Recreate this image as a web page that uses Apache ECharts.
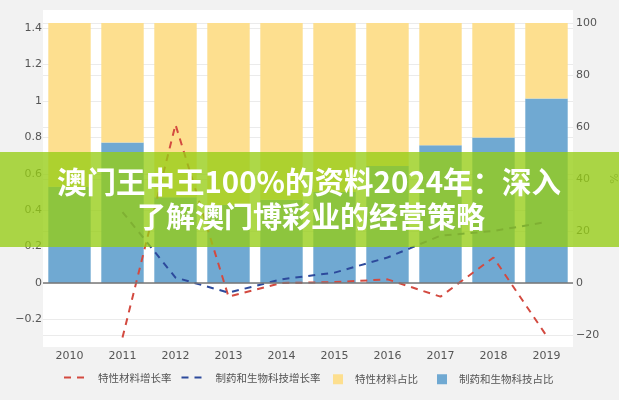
<!DOCTYPE html>
<html>
<head>
<meta charset="utf-8">
<script src="https://cdn.jsdelivr.net/npm/echarts@6/dist/echarts.min.js"></script>
<style>
html,body{margin:0;padding:0;background:#f2f2f2;}
#c{width:619px;height:400px;}
</style>
</head>
<body>
<div id="c"></div>
<script>
var years = ['2010','2011','2012','2013','2014','2015','2016','2017','2018','2019'];
var materialGrowth = [null, -0.30, 0.87, -0.075, 0.0, 0.005, 0.02, -0.075, 0.14, -0.29];
var pharmaGrowth = [null, 0.39, 0.03, -0.053, 0.02, 0.057, 0.14, 0.26, 0.286, 0.335];
var materialShare = [63, 46, 67, 70, 68, 65, 55, 47, 44, 29];
var pharmaShare = [37, 54, 33, 30, 32, 35, 45, 53, 56, 71];
var seriesNames = ['特性材料增长率', '制药和生物科技增长率', '特性材料占比', '制药和生物科技占比'];
var titleLines = ['澳门王中王100%的资料2024年：深入', '了解澳门博彩业的经营策略'];

var chart = echarts.init(document.getElementById('c'));
var labelFont = 'DejaVu Sans';
var cjk = 'Noto Sans CJK SC';
function minus(v){ return String(v).replace('-', '\u2212'); }

chart.setOption({
  backgroundColor: '#f2f2f2',
  animation: false,
  grid: { left: 43, right: 46, top: 10, bottom: 53, show: true, backgroundColor: '#ffffff', borderWidth: 0, outerBoundsMode: 'none', containLabel: false },
  legend: [{
    data: [seriesNames[0], seriesNames[1]],
    left: 63, top: 372, padding: 0, itemWidth: 25, itemHeight: 14, itemGap: 9,
    itemStyle: { opacity: 0 },
    textStyle: { fontFamily: cjk, fontSize: 10.5, color: '#555', padding: [0, 0, 0, 4] }
  }, {
    data: [seriesNames[2], seriesNames[3]],
    left: 333, top: 374, padding: 0, itemWidth: 10, itemHeight: 10, itemGap: 19,
    icon: 'rect',
    textStyle: { fontFamily: cjk, fontSize: 10.5, color: '#555', padding: [0, 0, 0, 7] }
  }],
  xAxis: {
    type: 'category', data: years,
    axisLine: { show: false, onZero: false },
    axisTick: { show: false },
    axisLabel: { fontFamily: labelFont, fontSize: 11, color: '#555', margin: 4 },
    splitLine: { show: false }
  },
  yAxis: [{
    type: 'value', min: -0.3516, max: 1.5, splitNumber: 8,
    axisLine: { show: false }, axisTick: { show: false },
    axisLabel: { fontFamily: labelFont, fontSize: 11, color: '#555', margin: 1, showMinLabel: false, showMaxLabel: false, formatter: minus },
    splitLine: { show: true, showMinLine: false, showMaxLine: false, lineStyle: { color: '#ebebeb', width: 1 } }
  }, {
    type: 'value', min: -24.615, max: 105, splitNumber: 6, position: 'right',
    name: '%', nameLocation: 'middle', nameGap: 31, nameRotate: 90,
    nameTextStyle: { fontFamily: labelFont, fontSize: 11, color: '#777' },
    axisLine: { show: false }, axisTick: { show: false },
    axisLabel: { fontFamily: labelFont, fontSize: 11, color: '#555', margin: 3, showMinLabel: false, showMaxLabel: false, formatter: minus },
    splitLine: { show: true, showMinLine: false, showMaxLine: false, lineStyle: { color: '#ebebeb', width: 1 } }
  }],
  series: [{
    name: seriesNames[3], type: 'bar', stack: 'share', yAxisIndex: 1,
    data: pharmaShare, barCategoryGap: '20%',
    itemStyle: { color: '#70a9d2' }, z: 1
  }, {
    name: seriesNames[2], type: 'bar', stack: 'share', yAxisIndex: 1,
    data: materialShare, barCategoryGap: '20%',
    itemStyle: { color: '#fddf8f' }, z: 1
  }, {
    name: seriesNames[0], type: 'line', yAxisIndex: 0, data: materialGrowth,
    symbol: 'none', z: 3,
    lineStyle: { color: '#d34a40', width: 2, type: [7, 6] },
    itemStyle: { color: '#d34a40' },
    markLine: {
      silent: true, symbol: 'none', label: { show: false },
      lineStyle: { color: '#777', width: 1.5, type: 'solid' },
      data: [{ yAxis: 0 }]
    }
  }, {
    name: seriesNames[1], type: 'line', yAxisIndex: 0, data: pharmaGrowth,
    symbol: 'none', z: 3,
    lineStyle: { color: '#2d4a9c', width: 2, type: [7, 6] },
    itemStyle: { color: '#2d4a9c' }
  }],
  graphic: [{
    type: 'rect', left: 0, top: 152, z: 100,
    shape: { width: 619, height: 95 },
    style: { fill: 'rgba(150,205,20,0.78)' }
  }, {
    type: 'text', x: 309, y: 182, z: 101,
    style: { text: titleLines[0], fill: '#ffffff', font: 'bold 29.5px "Noto Sans CJK SC"', align: 'center', verticalAlign: 'middle' }
  }, {
    type: 'text', x: 311, y: 217, z: 101,
    style: { text: titleLines[1], fill: '#ffffff', font: 'bold 29px "Noto Sans CJK SC"', align: 'center', verticalAlign: 'middle' }
  }]
});
</script>
</body>
</html>
